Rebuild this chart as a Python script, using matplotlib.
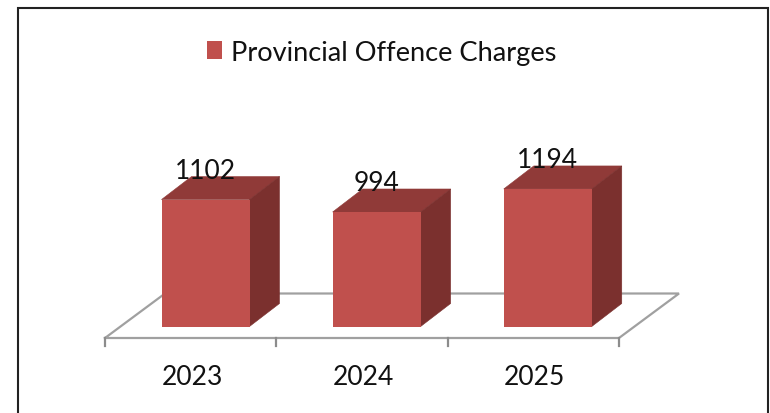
import matplotlib
matplotlib.use("Agg")
import matplotlib.pyplot as plt
from matplotlib.patches import Polygon

years = ["2023", "2024", "2025"]
charges = [1102, 994, 1194]
series_name = "Provincial Offence Charges"

W, H = 770, 414
plt.rcParams['font.family'] = ['Lato', 'DejaVu Sans']
fig = plt.figure(figsize=(W / 100, H / 100), dpi=100, facecolor='white')
ax = fig.add_axes([0, 0, 1, 1])

# scales: one category = 171.33 px, one unit of value = 0.1152 px
PX_CAT, PX_VAL = 171.33, 0.1152
X0, Y0 = 105.0, 327.5
ax.set_xlim(-X0 / PX_CAT, (W - X0) / PX_CAT)
ax.set_ylim((Y0 - H) / PX_VAL, Y0 / PX_VAL)
ax.axis('off')

def dx(px): return px / PX_CAT
def dy(px): return px / PX_VAL

# floor
front = dy(-11.5)
back = dy(33)
floor_col = '#A0A0A0'
ax.plot([0, dx(60), 3 + dx(60), 3, 0],
        [front, back, back, front, front],
        color=floor_col, lw=1.6, solid_joinstyle='miter', zorder=1)
for i in range(4):
    ax.plot([i, i], [front, front - dy(8)], color='#8C8C8C', lw=1.6, zorder=1)

# bars
bar_w = 88 / PX_CAT
ddx, ddy = dx(30), dy(23)
centers = [i + dx(100.5) - i * dx(0.2) for i in range(3)]
bars = ax.bar(centers, charges, width=bar_w, color='#C0504D', label=series_name, zorder=3)
for c, v in zip(centers, charges):
    l, r = c - bar_w / 2, c + bar_w / 2
    ax.add_patch(Polygon([(l, v), (r, v), (r + ddx, v + ddy), (l + ddx, v + ddy)],
                         closed=True, fc='#903A38', ec='#903A38', lw=0.4, zorder=2.9))
    ax.add_patch(Polygon([(r, 0), (r + ddx, ddy), (r + ddx, v + ddy), (r, v)],
                         closed=True, fc='#7B302E', ec='#7B302E', lw=0.4, zorder=2.9))
    ax.text(c, v + dy(29), str(v), ha='center', va='center', fontsize=19,
            color='#111111', zorder=4)

# category labels
for i, (c, y) in enumerate(zip(centers, years)):
    ax.text(c - dx(13.5), front - dy(39), y, ha='center', va='center',
            fontsize=19, color='#111111')

# legend
leg = ax.legend(handles=[bars], loc='center', bbox_to_anchor=(381.5 / W, 1 - 53 / H),
                bbox_transform=fig.transFigure, frameon=False, fontsize=19.6,
                labelcolor='#111111', handlelength=0.55, handleheight=0.6,
                handletextpad=0.33, borderpad=0, borderaxespad=0)

# outer frame (open at the bottom)
xl, xr = (18.5 - X0) / PX_CAT, (767.5 - X0) / PX_CAT
yt, yb = (Y0 - 8.5) / PX_VAL, (Y0 - H) / PX_VAL
ax.plot([xl, xl, xr, xr], [yb, yt, yt, yb], color='#222222', lw=1.5, zorder=5,
        solid_joinstyle='miter')

fig.savefig("out.png", dpi=100, facecolor='white')
